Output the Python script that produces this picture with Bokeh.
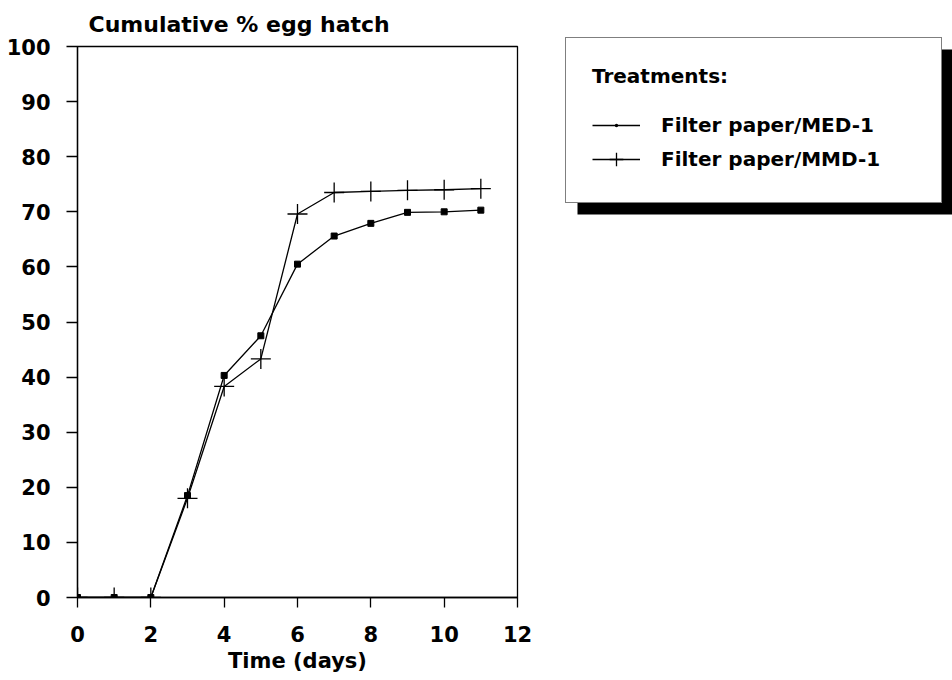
from bokeh.plotting import figure
from bokeh.models import Range1d, Legend, LegendItem, FixedTicker, BoxAnnotation
from bokeh.layouts import row, column
from bokeh.embed import file_html
from bokeh.resources import INLINE

# ---- data ----
days = [0, 1, 2, 3, 4, 5, 6, 7, 8, 9, 10, 11]
med1 = [0, 0, 0, 18.5, 40.3, 47.5, 60.5, 65.6, 67.9, 69.9, 70.0, 70.3]
mmd1 = [0, 0, 0, 18.0, 38.3, 43.3, 69.6, 73.5, 73.7, 73.9, 74.0, 74.2]
x_ticks = [0, 2, 4, 6, 8, 10, 12]
y_ticks = [0, 10, 20, 30, 40, 50, 60, 70, 80, 90, 100]
title_text = "Cumulative % egg hatch"
x_label = "Time (days)"
legend_title = "Treatments:"
labels = ["Filter paper/MED-1", "Filter paper/MMD-1"]

FONT = "DejaVu Sans"

p = figure(width=540, height=680, x_range=Range1d(0, 12), y_range=Range1d(0, 100),
           output_backend="svg", toolbar_location=None,
           min_border_left=77, min_border_right=23, min_border_top=46, min_border_bottom=83)
p.grid.visible = False
p.outline_line_color = "black"
p.outline_line_width = 1.3
p.background_fill_color = "white"
p.border_fill_color = "white"

p.title.text = title_text
p.title.align = "left"
p.title.offset = 11
p.title.standoff = 19
p.title.text_font = FONT
p.title.text_font_style = "bold"
p.title.text_font_size = "22px"
p.title.text_color = "black"

for ax in (p.xaxis[0], p.yaxis[0]):
    ax.axis_line_width = 1.3
    ax.major_tick_line_width = 1.3
    ax.minor_tick_line_color = None
    ax.major_tick_in = 0
    ax.major_label_text_font = FONT
    ax.major_label_text_font_style = "bold"
    ax.major_label_text_font_size = "21px"
    ax.major_label_text_color = "black"

p.xaxis.ticker = FixedTicker(ticks=x_ticks)
p.yaxis.ticker = FixedTicker(ticks=y_ticks)
p.xaxis.major_tick_out = 10
p.yaxis.major_tick_out = 11
p.yaxis.major_label_standoff = 16
p.xaxis.major_label_standoff = 18
p.xaxis.axis_label = x_label
p.xaxis.axis_label_text_font = FONT
p.xaxis.axis_label_text_font_style = "bold"
p.xaxis.axis_label_text_font_size = "21px"
p.xaxis.axis_label_text_color = "black"
p.xaxis.axis_label_standoff = 4

line_kw = dict(line_color="black", line_width=1.3)
med_kw = dict(marker="square", size=6, fill_color="black", line_color="black")
mmd_kw = dict(marker="cross", size=20, line_color="black", line_width=1.3)

p.line(days, med1, **line_kw)
p.scatter(days, med1, **med_kw)
p.line(days, mmd1, **line_kw)
p.scatter(days, mmd1, **mmd_kw)

# ---- legend panel (separate canvas to the right, pixel-like ranges, y downwards) ----
q = figure(width=412, height=680, x_range=Range1d(0, 412), y_range=Range1d(680, 0),
           x_axis_type=None, y_axis_type=None, output_backend="svg", toolbar_location=None,
           min_border=0, outline_line_color=None)
q.grid.visible = False
q.border_fill_color = "white"
q.background_fill_color = "white"
nan = [float("nan")]
lm_l = q.line(nan, nan, **line_kw)
lm_m = q.scatter(nan, nan, marker="dot", size=6, fill_color="black", line_color="black")
lx_l = q.line(nan, nan, **line_kw)
lx_m = q.scatter(nan, nan, **mmd_kw)

# drop shadow of the legend box
q.add_layout(BoxAnnotation(left=37, right=412, top=49, bottom=214,
                           fill_color="black", fill_alpha=1.0, line_color=None))

legend = Legend(items=[LegendItem(label=labels[0], renderers=[lm_l, lm_m]),
                       LegendItem(label=labels[1], renderers=[lx_l, lx_m])],
                location=(25, 477), title=legend_title,
                title_text_font=FONT, title_text_font_style="bold", title_text_font_size="20px",
                title_text_color="black", title_standoff=20,
                label_text_font=FONT, label_text_font_style="bold", label_text_font_size="20px",
                label_text_color="black", label_width=254, label_height=34, label_standoff=21,
                glyph_width=48, glyph_height=34, spacing=0, padding=26, margin=0,
                border_line_color="black", border_line_width=1.3,
                background_fill_color="white", background_fill_alpha=1.0)
q.add_layout(legend, "center")

layout = row(column(p), column(q), spacing=0)
open("out.html", "w").write(file_html(layout, INLINE))
